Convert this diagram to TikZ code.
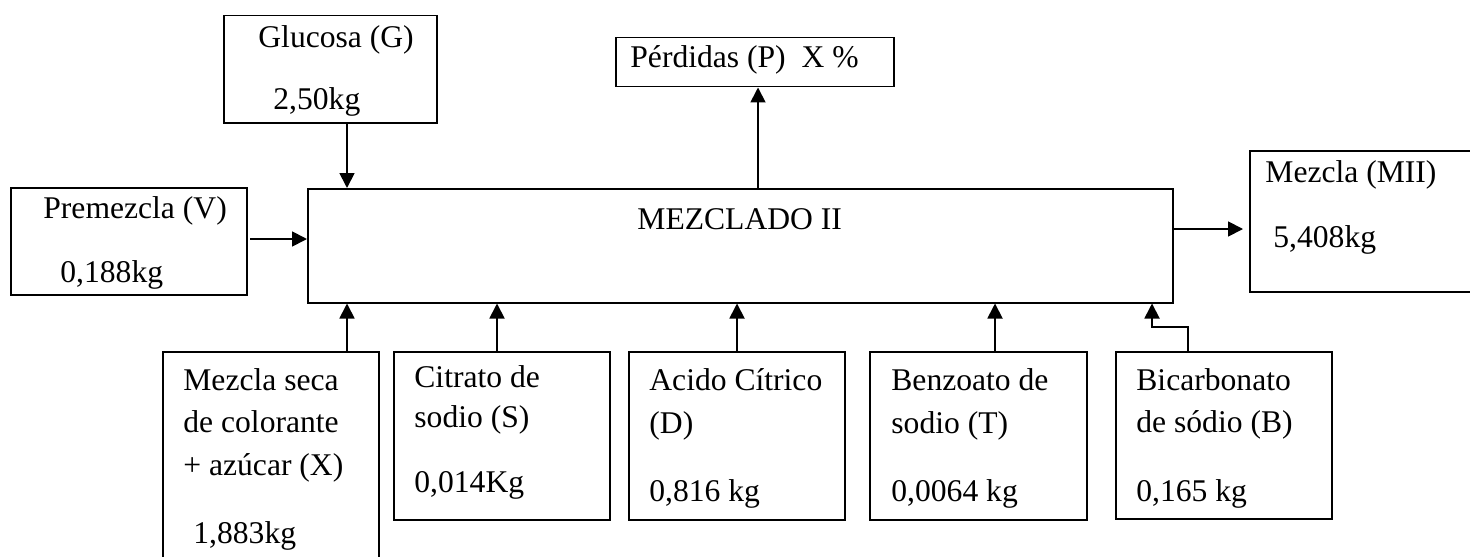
\documentclass[tikz,border=0pt]{standalone}
\usepackage{fontspec}
\setmainfont{Liberation Serif}
\usetikzlibrary{arrows.meta}
\begin{document}
\begin{tikzpicture}[x=0.5pt,y=-0.5pt,
  box/.style={draw, line width=0.75pt, inner sep=0pt, anchor=north west},
  lbl/.style={anchor=base west, inner sep=0pt, font=\fontsize{15.8}{19}\selectfont},
  arr/.style={line width=0.9pt, -{Triangle[length=7.5pt,width=7.5pt]}}]
\useasboundingbox (0,0) rectangle (1470,556);
% boxes
\node[box, minimum width=106.5pt, minimum height=53.5pt] (gluc) at (223,15) {};
\node[box, minimum width=118pt, minimum height=53.5pt] (prem) at (10,187) {};
\node[box, minimum width=139pt, minimum height=24.5pt] (perd) at (615,37) {};
\node[box, minimum width=432.5pt, minimum height=57pt] (main) at (307,188) {};
\node[box, minimum width=120.5pt, minimum height=70.5pt] (mii) at (1249,150) {};
\node[box, minimum width=108pt, minimum height=114.5pt] (seca) at (162,351) {};
\node[box, minimum width=108pt, minimum height=84pt] (citr) at (393,351) {};
\node[box, minimum width=108pt, minimum height=84pt] (acid) at (628,351) {};
\node[box, minimum width=108.5pt, minimum height=84pt] (benz) at (869,351) {};
\node[box, minimum width=108pt, minimum height=83.5pt] (bica) at (1115,351) {};
% texts
\node[lbl] (t1) at (258,48) {Glucosa (G)};
\node[lbl] (t2) at (273,110) {2,50kg};
\node[lbl] (t3) at (43,218) {Premezcla (V)};
\node[lbl] (t4) at (60,282) {0,188kg};
\node[lbl] (t5) at (630,68) {Pérdidas (P)\ \ X \%};
\node[lbl] (t6) at (637,229) {MEZCLADO II};
\node[lbl] (t7) at (1265,182) {Mezcla (MII)};
\node[lbl] (t8) at (1273,247) {5,408kg};
\node[lbl] (t9) at (183,390) {Mezcla seca};
\node[lbl] (t10) at (183,432) {de colorante};
\node[lbl] (t11) at (183,475) {+ azúcar (X)};
\node[lbl] (t12) at (193,543) {1,883kg};
\node[lbl] (t13) at (414,387) {Citrato de};
\node[lbl] (t14) at (414,427) {sodio (S)};
\node[lbl] (t15) at (414,492) {0,014Kg};
\node[lbl] (t16) at (649,390) {Acido Cítrico};
\node[lbl] (t17) at (649,433) {(D)};
\node[lbl] (t18) at (649,501) {0,816 kg};
\node[lbl] (t19) at (891,390) {Benzoato de};
\node[lbl] (t20) at (891,433) {sodio (T)};
\node[lbl] (t21) at (891,501) {0,0064 kg};
\node[lbl] (t22) at (1136,390) {Bicarbonato};
\node[lbl] (t23) at (1136,432) {de sódio (B)};
\node[lbl] (t24) at (1136,501) {0,165 kg};
% helper coordinates
\coordinate (xa) at (347,0);
\coordinate (xp) at (758,0);
\coordinate (xc) at (497,0);
\coordinate (xd) at (737,0);
\coordinate (xt) at (995,0);
\coordinate (xb) at (1188,0);
\coordinate (xb2) at (1152,0);
\coordinate (yv) at (0,239);
\coordinate (ym) at (0,229);
\coordinate (yb) at (0,327);
\coordinate (xs) at (250,0);
\coordinate (xe) at (1243,0);
% connectors
\draw[arr] (gluc.south -| xa) -- (main.north -| xa);
\draw[arr] (xs |- yv) -- (main.west |- yv);
\draw[arr] (main.north -| xp) -- (perd.south -| xp);
\draw[arr] (main.east |- ym) -- (xe |- ym);
\draw[arr] (seca.north -| xa) -- (main.south -| xa);
\draw[arr] (citr.north -| xc) -- (main.south -| xc);
\draw[arr] (acid.north -| xd) -- (main.south -| xd);
\draw[arr] (benz.north -| xt) -- (main.south -| xt);
\draw[arr] (bica.north -| xb) -- (xb |- yb) -- (xb2 |- yb) -- (main.south -| xb2);
\end{tikzpicture}
\end{document}
